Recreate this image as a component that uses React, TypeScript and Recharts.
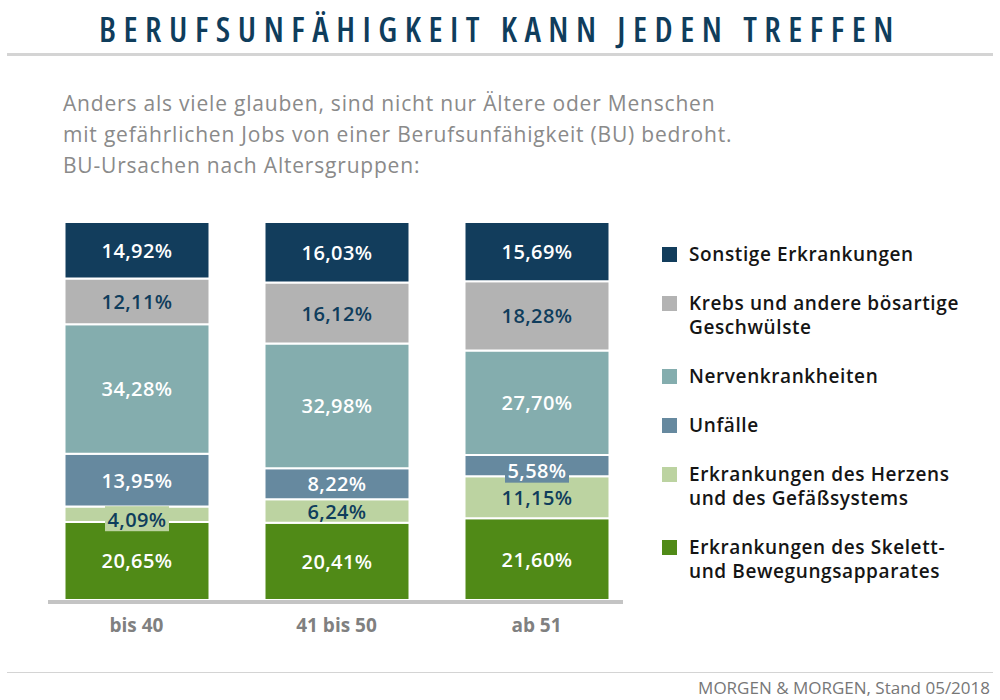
import { BarChart, Bar, XAxis, YAxis, LabelList } from "recharts";

const categories = ["bis 40", "41 bis 50", "ab 51"];

// bottom to top
const seriesNames = [
  "Erkrankungen des Skelett-\nund Bewegungsapparates",
  "Erkrankungen des Herzens\nund des Gefäßsystems",
  "Unfälle",
  "Nervenkrankheiten",
  "Krebs und andere bösartige\nGeschwülste",
  "Sonstige Erkrankungen",
];
const seriesKeys = ["skelett", "herz", "unfaelle", "nerven", "krebs", "sonstige"];

const skelett = [20.65, 20.41, 21.6];
const herz = [4.09, 6.24, 11.15];
const unfaelle = [13.95, 8.22, 5.58];
const nerven = [34.28, 32.98, 27.7];
const krebs = [12.11, 16.12, 18.28];
const sonstige = [14.92, 16.03, 15.69];

const seriesValues = [skelett, herz, unfaelle, nerven, krebs, sonstige];

const colors = ["#508a17", "#bcd3a1", "#66899f", "#84adae", "#b3b3b3", "#123d5c"];
const labelColors = ["#fff", "#0f3d5c", "#fff", "#fff", "#0f3d5c", "#fff"];

const data = categories.map((c, i) => {
  const row: any = { name: c };
  seriesKeys.forEach((k, s) => {
    row[k] = seriesValues[s][i];
  });
  return row;
});

const FONT = "'Open Sans', sans-serif";
const DARK = "#0f3d5c";

const fmt = (v: number) => v.toFixed(2).replace(".", ",") + "%";

const makeLabel = (color: string, bg: string) => (props: any) => {
  const { x, y, width, height, value } = props;
  const cx = x + width / 2;
  const small = height < 22;
  const cy = small ? y + height / 2 + 5 : y + height / 2;
  return (
    <g>
      {small && <rect x={cx - 32} y={cy - 13} width={64} height={25} fill={bg} />}
      <text
        x={cx}
        y={cy}
        textAnchor="middle"
        dominantBaseline="central"
        fill={color}
        fontSize={20}
        fontWeight={600}
        fontFamily={FONT}
        letterSpacing={0.4}
      >
        {fmt(value)}
      </text>
    </g>
  );
};

const Tick = (props: any) => {
  const { x, y, payload } = props;
  return (
    <text
      x={x}
      y={y + 24}
      textAnchor="middle"
      fill="#808080"
      fontSize={19}
      fontWeight={700}
      fontFamily={FONT}
    >
      {payload.value}
    </text>
  );
};

export default function App() {
  const legendItems = seriesNames.map((n, s) => ({ name: n, color: colors[s] })).reverse();
  return (
    <div
      style={{
        position: "absolute",
        left: 0,
        top: 0,
        width: 1000,
        height: 700,
        background: "#fff",
        fontFamily: FONT,
        overflow: "hidden",
      }}
    >
      <div
        style={{
          position: "absolute",
          left: 0,
          width: 1000,
          top: 6,
          textAlign: "center",
          fontSize: 34,
          fontWeight: 600,
          letterSpacing: 7.5,
          color: DARK,
          fontStretch: "condensed",
        }}
      >
        BERUFSUNFÄHIGKEIT KANN JEDEN TREFFEN
      </div>
      <div style={{ position: "absolute", left: 7, width: 986, top: 53, height: 3, background: "#d4d4d4" }} />
      <div
        style={{
          position: "absolute",
          left: 63,
          top: 88,
          fontSize: 21,
          lineHeight: "31px",
          letterSpacing: 0.8,
          color: "#8a8a8a",
        }}
      >
        <div>Anders als viele glauben, sind nicht nur Ältere oder Menschen</div>
        <div>mit gefährlichen Jobs von einer Berufsunfähigkeit (BU) bedroht.</div>
        <div>BU-Ursachen nach Altersgruppen:</div>
      </div>

      <div style={{ position: "absolute", left: 0, top: 0 }}>
        <BarChart
          width={1000}
          height={700}
          data={data}
          margin={{ top: 222, right: 363.5, left: 36.5, bottom: 60 }}
        >
          <YAxis hide domain={[0, 100]} />
          <XAxis
            dataKey="name"
            height={40}
            axisLine={false}
            tickLine={false}
            tick={<Tick />}
          />
          {seriesKeys.map((k, s) => (
            <Bar
              key={k}
              dataKey={k}
              name={seriesNames[s]}
              stackId="a"
              fill={colors[s]}
              stroke="#fff"
              strokeWidth={2}
              barSize={145}
              isAnimationActive={false}
            >
              <LabelList dataKey={k} content={makeLabel(labelColors[s], colors[s])} />
            </Bar>
          ))}
        </BarChart>
      </div>

      <div style={{ position: "absolute", left: 48, width: 575, top: 600, height: 4, background: "#c4c4c4" }} />

      <div style={{ position: "absolute", left: 662, top: 242, width: 330 }}>
        {legendItems.map((it) => (
          <div
            key={it.name}
            style={{ display: "flex", alignItems: "flex-start", marginBottom: 25 }}
          >
            <div
              style={{
                width: 15,
                height: 15,
                background: it.color,
                marginTop: 5,
                marginRight: 12,
                flexShrink: 0,
              }}
            />
            <div
              style={{
                fontSize: 19,
                fontWeight: 600,
                color: "#151515",
                lineHeight: "24px",
                letterSpacing: 0.6,
              }}
            >
              {it.name.split("\n").map((l) => (
                <div key={l} style={{ whiteSpace: "nowrap" }}>{l}</div>
              ))}
            </div>
          </div>
        ))}
      </div>

      <div style={{ position: "absolute", left: 7, width: 986, top: 672, height: 1, background: "#d4d4d4" }} />
      <div
        style={{
          position: "absolute",
          right: 10,
          top: 676,
          fontSize: 17,
          color: "#777",
        }}
      >
        MORGEN &amp; MORGEN, Stand 05/2018
      </div>
    </div>
  );
}
